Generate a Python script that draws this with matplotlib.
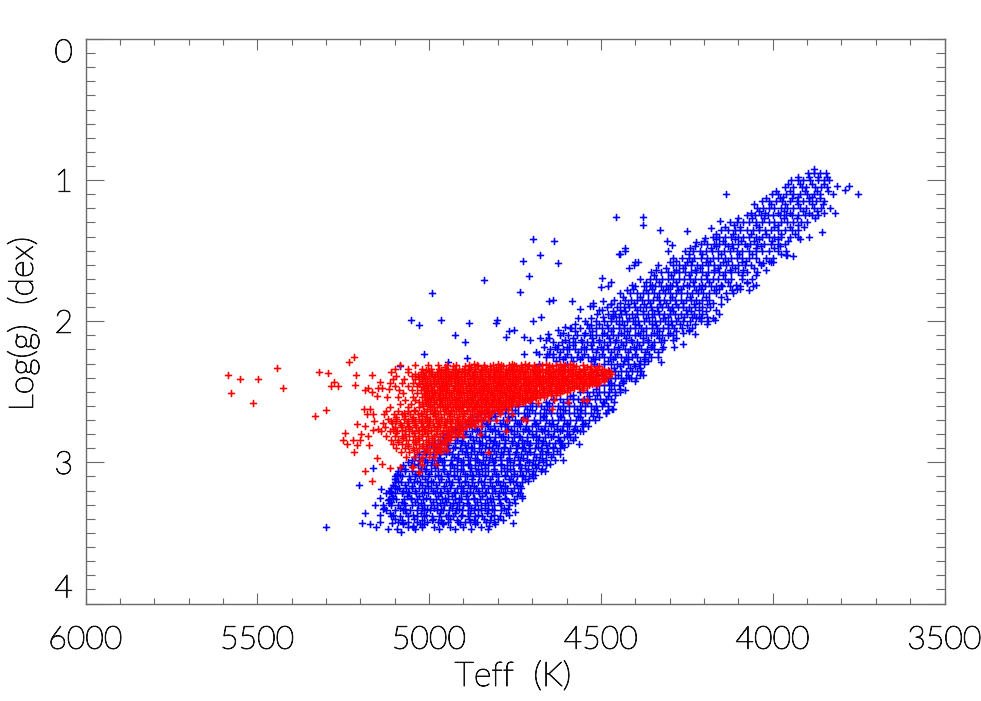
import numpy as np
import matplotlib
matplotlib.use('Agg')
import matplotlib.pyplot as plt
import matplotlib.patheffects as pe
from matplotlib.ticker import MultipleLocator

OUTPUT = 'out.png'

# isolated stars
blue_out_teff = [4698, 4637, 4678, 4726, 4626, 4710, 4839, 4735, 4991, 4650, 4640, 4583, 5052, 5029, 4965, 4883,
                 4803, 4804, 4697, 4675, 4926, 4896, 4775, 4767, 4753, 4723, 4706, 4676, 4659, 4655, 5014, 5085,
                 4944, 4890, 4723, 4679, 4658, 4498, 4500, 4480, 4470, 4446, 4456, 4377, 4377, 4430, 4328, 4250,
                 4403, 4392, 4429, 4445, 4307, 4293, 4223, 4197, 4401, 4417, 3881, 4137, 3751, 3779, 3790, 3813,
                 3824, 3820, 3857, 3940, 3960, 4153, 4180, 5301, 5205, 5162, 5195, 5187, 5171, 5155, 5157, 5142,
                 5139, 5114, 5094, 5099, 5092, 5142, 5143, 5133, 5119, 5120, 5109, 5082, 5077, 5046, 5027, 4992,
                 4960, 4755, 4750, 4826, 4881, 4963, 5047, 4729, 4697, 4662, 4611, 4564, 4551, 4468, 4430, 4486,
                 4326, 4377, 4417, 4435, 4334, 4287, 4262, 4289, 4226, 4243, 4192, 4167, 4155, 4210, 4236, 4190,
                 4132, 4116, 4095, 4056, 4076, 3959, 3998, 4027, 4493, 4471, 4522, 4498, 4466, 4624, 4604, 4587,
                 4634, 4639, 4561, 4566, 4541, 4532, 4522]
blue_out_logg = [1.42, 1.43, 1.53, 1.57, 1.59, 1.68, 1.71, 1.79, 1.80, 1.86, 1.85, 1.86, 1.99, 2.03, 1.99, 2.01,
                 1.99, 2.01, 2.00, 1.97, 2.10, 2.15, 2.11, 2.07, 2.06, 2.11, 2.13, 2.12, 2.13, 2.09, 2.23, 2.32,
                 2.29, 2.26, 2.23, 2.23, 2.23, 1.69, 1.76, 1.75, 1.72, 1.52, 1.26, 1.26, 1.32, 1.50, 1.35, 1.36,
                 1.60, 1.58, 1.48, 1.52, 1.43, 1.46, 1.44, 1.41, 1.58, 1.62, 0.92, 1.10, 1.10, 1.04, 1.07, 1.04,
                 1.10, 1.23, 1.37, 1.54, 1.53, 1.29, 1.34, 3.46, 3.16, 3.04, 3.43, 3.36, 3.44, 3.46, 3.30, 3.25,
                 3.19, 3.20, 3.19, 3.12, 3.09, 3.37, 3.42, 3.30, 3.27, 3.47, 3.43, 3.49, 3.43, 3.46, 3.44, 3.41,
                 3.43, 3.43, 3.35, 3.45, 3.42, 3.43, 3.45, 3.24, 3.11, 3.06, 2.98, 2.87, 2.78, 2.62, 2.49, 2.65,
                 2.29, 2.38, 2.40, 2.42, 2.25, 2.18, 2.16, 2.13, 2.09, 2.06, 2.02, 1.99, 1.95, 1.98, 1.97, 1.97,
                 1.84, 1.80, 1.77, 1.75, 1.73, 1.53, 1.58, 1.59, 1.86, 1.88, 1.89, 1.92, 1.96, 2.06, 2.04, 2.05,
                 2.18, 2.23, 1.91, 1.98, 2.02, 1.89, 1.87]

red_out_teff = [5584, 5551, 5498, 5444, 5577, 5425, 5512, 5320, 5295, 5332, 5299, 5232, 5219, 5212, 5165, 5276,
                5286, 5265, 5217, 5187, 5177, 5165, 5151, 5143, 5148, 5138, 5122, 5117, 5190, 5171, 5181, 5163,
                5160, 5186, 5211, 5245, 5250, 5238, 5222, 5211, 5201, 5199, 5178, 5219, 5174, 5162, 5148, 5187,
                5167, 5153, 5138, 5114, 5085, 5051, 5027, 5030, 4980, 4828, 4776, 4852, 4848, 4830, 4806, 4773,
                4728, 4718, 4641, 4636, 4684, 4595, 4553, 4540, 4552, 4794, 4760, 4770, 4901, 4915, 4949, 5020,
                5029, 5048, 4978, 4954, 4988]
red_out_logg = [2.38, 2.41, 2.41, 2.33, 2.51, 2.47, 2.58, 2.36, 2.37, 2.67, 2.63, 2.29, 2.25, 2.38, 2.38, 2.43,
                2.46, 2.46, 2.45, 2.49, 2.47, 2.50, 2.53, 2.43, 2.47, 2.47, 2.54, 2.48, 2.62, 2.62, 2.66, 2.66,
                2.71, 2.74, 2.73, 2.79, 2.84, 2.87, 2.84, 2.88, 2.84, 2.80, 2.81, 2.93, 2.88, 2.77, 2.76, 3.06,
                3.13, 2.97, 3.01, 3.04, 3.03, 3.03, 2.99, 3.07, 3.01, 2.93, 2.78, 2.80, 2.74, 2.70, 2.70, 2.70,
                2.69, 2.70, 2.62, 2.56, 2.58, 2.57, 2.56, 2.56, 2.49, 2.66, 2.66, 2.63, 2.81, 2.79, 2.91, 3.02,
                3.07, 3.03, 2.92, 2.85, 2.88]

# crowded parts of the clouds, read strip by strip in log(g)
blue_logg = [0.95, 1.00, 1.05, 1.10, 1.15, 1.20, 1.25, 1.30, 1.35, 1.40, 1.45, 1.50, 1.55, 1.60, 1.65, 1.70,
             1.75, 1.80, 1.85, 1.90, 1.95, 2.00, 2.05, 2.10, 2.15, 2.20, 2.25, 2.30, 2.35, 2.40, 2.45, 2.50,
             2.55, 2.60, 2.65, 2.70, 2.74, 2.78, 2.82, 2.86, 2.90, 2.94, 2.98, 3.02, 3.06, 3.10, 3.14, 3.18,
             3.22, 3.26, 3.30, 3.34, 3.38, 3.42, 3.46]
blue_teff = [
    [3898, 3880, 3862, 3845],
    [3948, 3925, 3912, 3890, 3868, 3850, 3835],
    [3965, 3940, 3915, 3902, 3878, 3860, 3842],
    [4003, 3985, 3962, 3940, 3921, 3900, 3880, 3862],
    [4030, 4010, 3990, 3972, 3950, 3930, 3912, 3895, 3875, 3850],
    [4046, 4028, 4012, 3995, 3975, 3958, 3940, 3920, 3902, 3880, 3860, 3832],
    [4075, 4052, 4035, 4015, 3998, 3980, 3962, 3945, 3925, 3905, 3885, 3868],
    [4124, 4105, 4085, 4068, 4048, 4030, 4012, 3995, 3975, 3958, 3940, 3918, 3900],
    [4150, 4130, 4110, 4095, 4075, 4058, 4040, 4022, 4005, 3985, 3965, 3945, 3925],
    [4174, 4155, 4138, 4120, 4102, 4085, 4068, 4050, 4032, 4012, 3995, 3975, 3950, 3925, 3895],
    [4210, 4190, 4172, 4155, 4138, 4118, 4100, 4082, 4065, 4045, 4025, 4005, 3985, 3965],
    [4305, 4255, 4232, 4212, 4195, 4178, 4160, 4142, 4125, 4105, 4088, 4070, 4050, 4030, 4010, 3985, 3962],
    [4290, 4265, 4245, 4228, 4210, 4192, 4175, 4158, 4140, 4122, 4105, 4088, 4070, 4048, 4020, 3998],
    [4335, 4290, 4272, 4255, 4238, 4220, 4205, 4188, 4170, 4152, 4135, 4118, 4100, 4082, 4062, 4035],
    [4355, 4325, 4305, 4288, 4272, 4255, 4238, 4222, 4205, 4188, 4170, 4155, 4138, 4120, 4100, 4075, 4045],
    [4385, 4358, 4340, 4322, 4306, 4290, 4274, 4258, 4242, 4225, 4208, 4192, 4175, 4158, 4140, 4120, 4090, 4060],
    [4400, 4375, 4358, 4342, 4326, 4310, 4294, 4278, 4262, 4245, 4230, 4214, 4198, 4180, 4165, 4148, 4125, 4095],
    [4445, 4415, 4395, 4378, 4362, 4345, 4330, 4314, 4298, 4282, 4266, 4250, 4235, 4218, 4202, 4186, 4165, 4135],
    [4462, 4430, 4412, 4396, 4380, 4364, 4348, 4332, 4316, 4300, 4285, 4268, 4252, 4238, 4222, 4205, 4185],
    [4482, 4452, 4434, 4418, 4402, 4386, 4370, 4354, 4338, 4322, 4306, 4292, 4276, 4260, 4244, 4225, 4205, 4182],
    [4510, 4478, 4458, 4442, 4426, 4410, 4394, 4378, 4362, 4346, 4330, 4315, 4300, 4284, 4268, 4250, 4230, 4205],
    [4546, 4515, 4490, 4472, 4456, 4440, 4424, 4408, 4392, 4376, 4360, 4344, 4328, 4312, 4296, 4280, 4262, 4240, 4210, 4188],
    [4590, 4560, 4535, 4515, 4498, 4480, 4465, 4448, 4432, 4416, 4400, 4384, 4368, 4352, 4336, 4320, 4305, 4288, 4265, 4235],
    [4620, 4595, 4570, 4550, 4532, 4515, 4498, 4482, 4466, 4450, 4434, 4418, 4402, 4386, 4370, 4354, 4338, 4322, 4305, 4290],
    [4640, 4612, 4592, 4574, 4556, 4540, 4522, 4506, 4490, 4474, 4458, 4442, 4426, 4410, 4394, 4378, 4362, 4345, 4325],
    [4648, 4628, 4610, 4592, 4576, 4558, 4542, 4526, 4510, 4494, 4478, 4462, 4446, 4430, 4414, 4398, 4382, 4365, 4345, 4322],
    [4660, 4640, 4622, 4604, 4588, 4570, 4554, 4538, 4522, 4505, 4490, 4474, 4458, 4442, 4426, 4410, 4394, 4376, 4355],
    [4680, 4600, 4520, 4490, 4470, 4452, 4436, 4420, 4404, 4388, 4376],
    [4475, 4458, 4442, 4426, 4410, 4396, 4382],
    [4490, 4474, 4458, 4442, 4428, 4412, 4398],
    [4505, 4490, 4476, 4462, 4446],
    [4560, 4540, 4522, 4505, 4490, 4475, 4460, 4445],
    [4640, 4620, 4600, 4582, 4566, 4550, 4534, 4518, 4502, 4486, 4470],
    [4760, 4740, 4722, 4706, 4690, 4674, 4658, 4642, 4626, 4610, 4594, 4578, 4562, 4546, 4530, 4514, 4498, 4480],
    [4850, 4830, 4812, 4795, 4778, 4760, 4742, 4725, 4708, 4692, 4676, 4660, 4644, 4628, 4610, 4594, 4578, 4562, 4546, 4530, 4512, 4486],
    [4881, 4860, 4842, 4822, 4805, 4786, 4768, 4750, 4732, 4714, 4696, 4678, 4660, 4642, 4624, 4606, 4590, 4572, 4554, 4536, 4518],
    [4905, 4885, 4865, 4846, 4828, 4810, 4790, 4772, 4754, 4736, 4718, 4700, 4682, 4664, 4646, 4628, 4610, 4592, 4574, 4556, 4538],
    [4935, 4912, 4893, 4874, 4855, 4836, 4818, 4800, 4780, 4762, 4744, 4726, 4708, 4690, 4672, 4654, 4636, 4618, 4600, 4582, 4562],
    [4960, 4940, 4920, 4900, 4882, 4864, 4845, 4826, 4808, 4790, 4770, 4752, 4734, 4716, 4698, 4680, 4662, 4644, 4626, 4608, 4590, 4574],
    [4985, 4965, 4945, 4926, 4908, 4888, 4870, 4852, 4834, 4815, 4796, 4778, 4760, 4742, 4724, 4706, 4688, 4670, 4652, 4634, 4616, 4596],
    [5005, 4985, 4966, 4948, 4930, 4910, 4892, 4874, 4855, 4836, 4818, 4800, 4782, 4764, 4745, 4728, 4710, 4692, 4674, 4656, 4638, 4618],
    [5030, 5010, 4990, 4972, 4952, 4934, 4916, 4896, 4878, 4860, 4842, 4822, 4804, 4786, 4768, 4750, 4732, 4714, 4696, 4678, 4660, 4640, 4620],
    [5050, 5030, 5012, 4992, 4974, 4956, 4936, 4918, 4900, 4882, 4862, 4844, 4826, 4808, 4790, 4772, 4754, 4736, 4716, 4698, 4680, 4660, 4635],
    [5075, 5052, 5032, 5014, 4995, 4976, 4958, 4940, 4920, 4902, 4884, 4866, 4848, 4830, 4810, 4792, 4774, 4756, 4738, 4720, 4700, 4682, 4660],
    [5090, 5070, 5050, 5030, 5012, 4994, 4974, 4956, 4938, 4920, 4900, 4882, 4864, 4846, 4828, 4810, 4790, 4772, 4754, 4736, 4718, 4698, 4675],
    [5098, 5078, 5058, 5040, 5020, 5002, 4984, 4964, 4946, 4928, 4910, 4890, 4872, 4854, 4836, 4818, 4800, 4780, 4762, 4744, 4726, 4708],
    [5100, 5082, 5062, 5044, 5026, 5006, 4988, 4970, 4950, 4932, 4914, 4896, 4876, 4858, 4840, 4822, 4804, 4785, 4766, 4748, 4730],
    [5110, 5088, 5068, 5050, 5030, 5012, 4994, 4976, 4956, 4938, 4920, 4902, 4882, 4864, 4846, 4828, 4810, 4790, 4772, 4754, 4732],
    [5125, 5100, 5078, 5058, 5038, 5020, 5002, 4982, 4964, 4946, 4928, 4908, 4890, 4872, 4854, 4836, 4816, 4798, 4780, 4760, 4735],
    [5118, 5096, 5074, 5054, 5036, 5018, 4998, 4980, 4962, 4944, 4924, 4906, 4888, 4870, 4852, 4832, 4814, 4796, 4775, 4752],
    [5110, 5090, 5070, 5050, 5032, 5014, 4994, 4976, 4958, 4940, 4920, 4902, 4884, 4866, 4848, 4828, 4810, 4790, 4768],
    [5125, 5098, 5076, 5056, 5036, 5016, 4998, 4978, 4960, 4942, 4922, 4904, 4886, 4868, 4848, 4830, 4810, 4790],
    [5110, 5085, 5060, 5035, 5015, 4992, 4972, 4950, 4930, 4906, 4886, 4865, 4845, 4820, 4795],
    [5090, 5060, 5035, 5005, 4975, 4945, 4915, 4895, 4860, 4835, 4810],
    [5062, 5020, 4985, 4940, 4900, 4850],
]

# stars lying between those strips
blue_logg2 = [0.98, 1.03, 1.08, 1.13, 1.17, 1.23, 1.27, 1.33, 1.38, 1.43, 1.47, 1.52, 1.57, 1.62, 1.67, 1.72,
              1.77, 1.83, 1.87, 1.93, 1.97, 2.03, 2.07, 2.13, 2.17, 2.23, 2.27, 2.33, 2.42, 2.48, 2.53, 2.58,
              2.63, 2.67, 2.72, 2.76, 2.80, 2.84, 2.88, 2.92, 2.96, 3.00, 3.04, 3.08, 3.12, 3.16, 3.20, 3.24,
              3.28, 3.32, 3.36, 3.40, 3.44,
              1.12, 1.22, 1.32, 1.42, 1.48, 1.58, 1.64, 1.74, 1.78, 1.88, 1.92, 1.98, 2.02, 2.08, 2.12, 2.18,
              2.22, 2.28, 2.32, 2.38, 2.44, 2.52, 2.57, 2.62, 2.68, 2.73, 2.77, 2.81, 2.85, 2.89, 2.93, 2.97,
              3.01, 3.05, 3.09, 3.13, 3.17, 3.21, 3.25, 3.29, 3.33, 3.37, 3.41, 3.47]
blue_teff2 = [
    [3925, 3895, 3868, 3843],
    [3955, 3920, 3885, 3852],
    [3990, 3950, 3905, 3870, 3838],
    [4020, 3980, 3945, 3895, 3862],
    [4055, 4005, 3965, 3925, 3885, 3855],
    [4062, 4021, 3985, 3950, 3895, 3850],
    [4100, 4060, 4025, 3968, 3930, 3878],
    [4140, 4095, 4040, 3995, 3950, 3908],
    [4165, 4115, 4062, 4020, 3975, 3935],
    [4200, 4145, 4092, 4055, 4003, 3955],
    [4225, 4165, 4130, 4075, 4035, 3978],
    [4245, 4205, 4150, 4098, 4060, 3975],
    [4280, 4235, 4182, 4130, 4078, 4012],
    [4310, 4262, 4212, 4160, 4110, 4055],
    [4345, 4297, 4245, 4195, 4145, 4090, 4050],
    [4370, 4332, 4282, 4233, 4185, 4130, 4075],
    [4408, 4352, 4305, 4268, 4210, 4155, 4105],
    [4435, 4385, 4338, 4292, 4242, 4195, 4150],
    [4445, 4405, 4356, 4310, 4260, 4215, 4175],
    [4465, 4430, 4378, 4335, 4290, 4238, 4195],
    [4495, 4448, 4402, 4352, 4305, 4258, 4215],
    [4530, 4482, 4434, 4388, 4340, 4292, 4250],
    [4575, 4525, 4472, 4425, 4378, 4330, 4280, 4245],
    [4605, 4558, 4505, 4456, 4412, 4362, 4315],
    [4625, 4582, 4530, 4482, 4436, 4390, 4350],
    [4650, 4598, 4548, 4498, 4452, 4402, 4360],
    [4610, 4560, 4516, 4466, 4420, 4372],
    [4462, 4415, 4385],
    [4480, 4435, 4400],
    [4515, 4470, 4445],
    [4590, 4535, 4478],
    [4700, 4650, 4595, 4540, 4490],
    [4800, 4750, 4700, 4652, 4605, 4558, 4510, 4478],
    [4860, 4808, 4760, 4715, 4665, 4620, 4568, 4522],
    [4895, 4835, 4795, 4745, 4690, 4650, 4600, 4546],
    [4925, 4865, 4822, 4770, 4722, 4675, 4628, 4578],
    [4950, 4895, 4848, 4798, 4752, 4700, 4655, 4592],
    [4975, 4918, 4872, 4822, 4780, 4730, 4682, 4622, 4582],
    [4995, 4945, 4895, 4845, 4805, 4748, 4708, 4660, 4612],
    [5015, 4958, 4905, 4868, 4812, 4770, 4722, 4672, 4628],
    [5040, 4985, 4928, 4888, 4835, 4795, 4742, 4690, 4645],
    [5060, 5005, 4962, 4908, 4855, 4815, 4765, 4710, 4668],
    [5082, 5025, 4982, 4928, 4878, 4838, 4782, 4732, 4690],
    [5093, 5040, 5000, 4948, 4895, 4856, 4805, 4752, 4700],
    [5098, 5055, 5012, 4965, 4915, 4875, 4822, 4768, 4720],
    [5105, 5070, 5022, 4980, 4935, 4888, 4840, 4795, 4745],
    [5118, 5075, 5040, 4990, 4948, 4900, 4858, 4808, 4762],
    [5108, 5065, 5028, 4975, 4932, 4892, 4845, 4800, 4745],
    [5112, 5080, 5042, 4990, 4950, 4912, 4860, 4820, 4768],
    [5130, 5085, 5020, 4985, 4932, 4878, 4838, 4782],
    [5115, 5068, 5025, 4968, 4925, 4880, 4832, 4775],
    [5098, 5045, 4988, 4938, 4885, 4840, 4800],
    [5075, 5015, 4960, 4910, 4865, 4808],
    [3970, 3925, 3885],
    [4040, 3968, 3912, 3870],
    [4112, 4050, 3985, 3925],
    [4165, 4110, 4040, 3985, 3920],
    [4240, 4180, 4115, 4050, 3995],
    [4300, 4250, 4195, 4145, 4090, 4040, 4005],
    [4340, 4280, 4225, 4170, 4125, 4085, 4020],
    [4410, 4350, 4300, 4250, 4205, 4150, 4108, 4050],
    [4425, 4370, 4320, 4275, 4222, 4172, 4118, 4070],
    [4470, 4420, 4375, 4328, 4282, 4230, 4190, 4150],
    [4505, 4445, 4395, 4350, 4300, 4252, 4215, 4165],
    [4530, 4470, 4418, 4368, 4320, 4275, 4222, 4175],
    [4575, 4505, 4448, 4400, 4352, 4304, 4270, 4225],
    [4610, 4545, 4490, 4442, 4392, 4345, 4298, 4262],
    [4650, 4582, 4525, 4475, 4426, 4378, 4330, 4282],
    [4665, 4600, 4550, 4500, 4450, 4405, 4355, 4318],
    [4690, 4618, 4566, 4515, 4470, 4420, 4372, 4335],
    [4630, 4580, 4530, 4480, 4432, 4385, 4362],
    [4512, 4445, 4400],
    [4498, 4450, 4420, 4385],
    [4520, 4472, 4435],
    [4580, 4510, 4458],
    [4660, 4610, 4556, 4495, 4462],
    [4775, 4715, 4665, 4618, 4570, 4520, 4465],
    [4875, 4820, 4770, 4722, 4668, 4615, 4560, 4505],
    [4880, 4832, 4780, 4738, 4692, 4640, 4598, 4552],
    [4915, 4860, 4808, 4762, 4712, 4665, 4612, 4570],
    [4948, 4880, 4836, 4785, 4738, 4690, 4640, 4600],
    [4960, 4905, 4856, 4810, 4760, 4715, 4668, 4620],
    [4980, 4925, 4878, 4825, 4782, 4730, 4684, 4640, 4606],
    [5010, 4942, 4890, 4850, 4792, 4748, 4705, 4655],
    [5022, 4968, 4915, 4865, 4818, 4768, 4728, 4672],
    [5045, 4985, 4932, 4888, 4838, 4790, 4738, 4692, 4648],
    [5070, 5008, 4960, 4908, 4858, 4812, 4765, 4712, 4672],
    [5085, 5030, 4975, 4928, 4875, 4838, 4780, 4730, 4692],
    [5090, 5035, 4995, 4942, 4895, 4848, 4800, 4755, 4712],
    [5098, 5050, 5002, 4958, 4908, 4868, 4818, 4778, 4735],
    [5112, 5062, 5015, 4968, 4925, 4880, 4835, 4785, 4742],
    [5105, 5052, 5008, 4955, 4912, 4870, 4822, 4778, 4730],
    [5118, 5072, 5025, 4968, 4930, 4890, 4838, 4795, 4750],
    [5135, 5070, 5005, 4965, 4912, 4858, 4818, 4770],
    [5105, 5048, 5008, 4945, 4905, 4858, 4810, 4768],
    [5078, 5022, 4965, 4918, 4870, 4822, 4785],
    [5092, 5040, 4970, 4925, 4878, 4830],
]

red_logg = [2.31, 2.335, 2.36, 2.385, 2.41, 2.435, 2.46, 2.485, 2.51, 2.535, 2.56, 2.585, 2.61, 2.635, 2.66, 2.69,
            2.72, 2.75, 2.78, 2.81, 2.84, 2.87, 2.90, 2.93, 2.96]
red_teff = [
    [5085, 5040, 5002, 4975, 4948, 4922, 4885, 4862, 4841, 4815, 4790, 4768, 4752, 4733, 4710, 4694, 4671, 4650, 4632, 4605, 4580, 4551],
    [5100, 5062, 5022, 4995, 4972, 4950, 4931, 4912, 4898, 4880, 4866, 4850, 4835, 4821, 4804, 4790, 4776, 4760, 4745, 4729, 4716, 4700, 4685, 4670, 4654, 4640, 4624, 4610, 4595, 4580, 4565, 4550, 4532, 4516, 4498],
    [5110, 5060, 5025, 5008, 4992, 4977, 4961, 4946, 4930, 4915, 4899, 4884, 4868, 4853, 4838, 4824, 4809, 4795, 4779, 4765, 4750, 4736, 4722, 4706, 4691, 4677, 4663, 4648, 4633, 4619, 4604, 4589, 4575, 4560, 4546, 4530, 4515, 4500, 4485, 4470],
    [5095, 5050, 5032, 5014, 4999, 4983, 4968, 4952, 4937, 4921, 4906, 4890, 4875, 4860, 4845, 4830, 4815, 4801, 4786, 4772, 4757, 4742, 4728, 4713, 4698, 4684, 4669, 4655, 4640, 4625, 4610, 4596, 4581, 4566, 4552, 4537, 4522, 4507, 4492, 4476],
    [5105, 5072, 5040, 5022, 5006, 4990, 4975, 4959, 4944, 4928, 4913, 4897, 4882, 4867, 4852, 4837, 4822, 4808, 4793, 4779, 4764, 4749, 4735, 4720, 4705, 4691, 4676, 4662, 4647, 4632, 4617, 4603, 4588, 4573, 4559, 4544, 4529, 4514, 4498],
    [5115, 5080, 5048, 5028, 5012, 4997, 4981, 4966, 4950, 4935, 4919, 4904, 4888, 4873, 4858, 4843, 4828, 4814, 4799, 4785, 4770, 4755, 4741, 4726, 4711, 4697, 4682, 4668, 4653, 4638, 4623, 4609, 4594, 4579, 4565, 4550, 4535, 4520, 4508],
    [5100, 5062, 5034, 5018, 5003, 4987, 4972, 4956, 4941, 4925, 4910, 4894, 4879, 4864, 4849, 4834, 4820, 4805, 4791, 4776, 4761, 4747, 4732, 4717, 4703, 4688, 4674, 4659, 4644, 4629, 4615, 4600, 4585, 4571, 4556, 4540],
    [5088, 5050, 5025, 5009, 4993, 4978, 4962, 4947, 4931, 4916, 4900, 4885, 4870, 4855, 4840, 4826, 4811, 4797, 4782, 4767, 4753, 4738, 4723, 4709, 4694, 4680, 4665, 4650, 4635, 4621, 4606, 4590],
    [5075, 5035, 5015, 4999, 4984, 4968, 4953, 4937, 4922, 4906, 4891, 4876, 4861, 4846, 4832, 4817, 4803, 4788, 4773, 4759, 4744, 4729, 4715, 4700, 4686, 4671, 4656, 4641, 4620],
    [5090, 5048, 5022, 5005, 4990, 4974, 4959, 4943, 4928, 4912, 4897, 4882, 4867, 4852, 4838, 4823, 4809, 4794, 4779, 4765, 4750, 4735, 4721, 4706, 4692, 4677, 4665],
    [5070, 5040, 5012, 4996, 4980, 4965, 4949, 4934, 4918, 4903, 4888, 4873, 4858, 4844, 4829, 4815, 4800, 4785, 4771, 4756, 4741, 4727, 4712, 4706],
    [5085, 5052, 5020, 5002, 4986, 4971, 4955, 4940, 4924, 4909, 4894, 4879, 4864, 4850, 4835, 4821, 4806, 4791, 4777, 4762, 4747, 4738],
    [5115, 5060, 5028, 4992, 4977, 4961, 4946, 4930, 4915, 4900, 4885, 4870, 4856, 4841, 4827, 4812, 4797, 4783],
    [5125, 5090, 5062, 5040, 5015, 4998, 4983, 4967, 4952, 4936, 4921, 4906, 4891, 4876, 4862, 4847, 4833, 4818, 4800],
    [5130, 5102, 5078, 5055, 5032, 5010, 4990, 4973, 4958, 4942, 4927, 4912, 4897, 4882, 4868, 4853, 4839, 4825],
    [5120, 5095, 5072, 5050, 5030, 5012, 4996, 4980, 4964, 4948, 4933, 4918, 4903, 4888, 4874, 4860, 4850],
    [5135, 5108, 5085, 5063, 5043, 5024, 5006, 4988, 4970, 4954, 4939, 4924, 4909, 4894, 4880, 4870],
    [5128, 5100, 5078, 5058, 5038, 5020, 5002, 4985, 4967, 4950, 4935, 4920, 4905, 4892],
    [5140, 5115, 5092, 5070, 5050, 5030, 5012, 4994, 4976, 4960, 4944, 4930, 4915],
    [5125, 5100, 5080, 5058, 5040, 5020, 5003, 4985, 4968, 4952, 4937, 4925],
    [5112, 5090, 5068, 5048, 5028, 5010, 4992, 4975, 4958, 4940],
    [5105, 5080, 5060, 5038, 5018, 5000, 4982, 4965, 4950],
    [5095, 5070, 5048, 5028, 5008, 4990, 4972, 4958],
    [5082, 5058, 5036, 5015, 4998, 4980, 4966],
    [5068, 5045, 5022, 5000, 4985],
]

red_logg2 = [2.32, 2.347, 2.372, 2.397, 2.422, 2.447, 2.472, 2.497, 2.522, 2.547, 2.572, 2.597, 2.625, 2.65, 2.675,
             2.705, 2.735, 2.765, 2.795, 2.825, 2.855, 2.885, 2.915,
             2.30, 2.325, 2.35, 2.375, 2.40, 2.425, 2.45, 2.475, 2.50, 2.525, 2.55, 2.575, 2.60, 2.63, 2.67,
             2.71, 2.74, 2.77, 2.80]
red_teff2 = [
    [4930, 4895, 4858, 4822, 4785, 4748, 4712, 4680, 4642, 4608, 4572, 4530, 4505],
    [5010, 4965, 4925, 4888, 4845, 4812, 4770, 4738, 4695, 4660, 4622, 4590, 4548, 4512, 4480],
    [5040, 4995, 4955, 4918, 4872, 4838, 4798, 4758, 4722, 4685, 4645, 4612, 4570, 4535, 4492],
    [5030, 4985, 4942, 4908, 4865, 4825, 4792, 4748, 4712, 4670, 4635, 4598, 4558, 4518, 4484],
    [5020, 4975, 4935, 4895, 4855, 4815, 4778, 4740, 4700, 4660, 4625, 4585, 4545, 4505],
    [5028, 4985, 4948, 4905, 4868, 4828, 4788, 4750, 4708, 4675, 4632, 4595, 4552, 4525],
    [5015, 4968, 4928, 4892, 4850, 4812, 4772, 4735, 4695, 4650, 4618, 4578, 4552],
    [5005, 4962, 4920, 4880, 4842, 4802, 4765, 4722, 4688, 4645, 4612],
    [5012, 4972, 4935, 4890, 4852, 4815, 4775, 4738, 4698, 4658, 4632],
    [4995, 4955, 4912, 4875, 4832, 4795, 4752, 4715, 4690],
    [5030, 4985, 4940, 4898, 4860, 4818, 4778, 4738, 4722],
    [5018, 4968, 4925, 4885, 4848, 4805, 4768],
    [5005, 4955, 4912, 4870, 4832, 4798],
    [5072, 5025, 4985, 4942, 4898, 4858, 4820],
    [5095, 5048, 5005, 4965, 4920, 4880, 4838],
    [5110, 5062, 5022, 4975, 4938, 4895, 4858],
    [5082, 5040, 5000, 4958, 4912, 4878],
    [5105, 5058, 5015, 4978, 4932, 4902],
    [5095, 5045, 5005, 4962, 4920],
    [5075, 5032, 4992, 4945],
    [5090, 5040, 5002, 4960],
    [5062, 5020, 4978],
    [5045, 5005, 4970],
    [4870, 4800, 4760, 4722, 4660, 4618, 4590],
    [4955, 4878, 4840, 4800, 4762, 4730, 4692, 4650, 4615, 4582, 4540],
    [5000, 4945, 4905, 4866, 4830, 4795, 4755, 4720, 4680, 4640, 4606, 4565, 4525, 4490],
    [5018, 4975, 4935, 4895, 4852, 4812, 4775, 4735, 4698, 4655, 4625, 4585, 4548, 4510, 4470],
    [5012, 4965, 4925, 4882, 4845, 4808, 4768, 4728, 4690, 4650, 4612, 4572, 4532, 4495],
    [4998, 4955, 4915, 4870, 4838, 4798, 4760, 4718, 4680, 4642, 4605, 4562, 4525, 4492],
    [5008, 4962, 4925, 4885, 4842, 4802, 4765, 4725, 4688, 4648, 4610, 4572, 4536, 4510],
    [4995, 4950, 4910, 4870, 4830, 4792, 4752, 4712, 4668, 4634, 4595, 4565],
    [4985, 4942, 4900, 4862, 4820, 4782, 4745, 4705, 4665, 4628, 4598],
    [4992, 4950, 4912, 4870, 4832, 4795, 4755, 4718, 4678, 4645],
    [5005, 4968, 4925, 4890, 4848, 4812, 4768, 4730, 4702],
    [5010, 4962, 4918, 4878, 4838, 4798, 4758, 4728],
    [4998, 4948, 4905, 4865, 4825, 4788, 4762],
    [5045, 4985, 4935, 4890, 4850, 4812, 4788],
    [5070, 5022, 4982, 4940, 4900, 4858, 4825],
    [5095, 5040, 5000, 4955, 4915, 4875, 4848],
    [5060, 5018, 4978, 4935, 4892, 4866],
    [5078, 5032, 4995, 4952, 4910],
    [5070, 5022, 4980, 4942, 4912],
]


def flatten_rows(logg_rows, teff_rows):
    teff = np.concatenate([np.array(row, dtype=float) for row in teff_rows])
    logg = np.concatenate([np.full(len(row), g) for g, row in zip(logg_rows, teff_rows)])
    return teff, logg


def main():
    plt.rcParams['font.family'] = ['Lato', 'DejaVu Sans']
    plt.rcParams['font.weight'] = 'light'

    fig = plt.figure(figsize=(9.81, 7.01), dpi=100)
    ax = fig.add_axes([85.5 / 981, 1 - 603.5 / 701, 859 / 981, 564.5 / 701])

    blue_x, blue_y = flatten_rows(blue_logg, blue_teff)
    blue_x2, blue_y2 = flatten_rows(blue_logg2, blue_teff2)
    red_x, red_y = flatten_rows(red_logg, red_teff)
    red_x2, red_y2 = flatten_rows(red_logg2, red_teff2)

    marker_style = dict(marker='+', s=28, linewidths=1.15, snap=False)
    ax.scatter(np.r_[blue_x, blue_x2, blue_out_teff], np.r_[blue_y, blue_y2, blue_out_logg], color='#0000ff', **marker_style)
    ax.scatter(np.r_[red_x, red_x2, red_out_teff], np.r_[red_y, red_y2, red_out_logg], color='#ff0000', **marker_style)

    ax.set_xlim(6000, 3500)
    ax.set_ylim(4, 0)

    ax.xaxis.set_major_locator(MultipleLocator(500))
    ax.xaxis.set_minor_locator(MultipleLocator(100))
    ax.yaxis.set_major_locator(MultipleLocator(1))
    ax.yaxis.set_minor_locator(MultipleLocator(0.1))

    edge = '#6a6a6a'
    for spine in ax.spines.values():
        spine.set_color(edge)
        spine.set_linewidth(1.0)
    ax.tick_params(axis='x', which='major', direction='in', top=True, length=8, width=0.8, color=edge, pad=16, labelsize=23)
    ax.tick_params(axis='x', which='minor', direction='in', top=True, length=4.3, width=0.8, color=edge)
    ax.tick_params(axis='y', which='major', direction='in', right=True, length=13, width=0.8, color=edge, pad=9, labelsize=23)
    ax.tick_params(axis='y', which='minor', direction='in', right=True, length=6.5, width=0.8, color=edge)

    ax.set_yticks([0, 1, 2, 3, 4])
    ax.set_yticklabels(['0', '1', '2', '3', '4'])
    # end labels sit inside the axis range, like the reference
    labels = ax.get_yticklabels()
    labels[0].set_verticalalignment('top')
    labels[4].set_verticalalignment('bottom')

    xlab = fig.text(513 / 981, 1 - 677 / 701, 'Teff  (K)', ha='center', va='center', fontsize=24.5)
    ylab = fig.text(23 / 981, 1 - 324 / 701, 'Log(g)  (dex)', ha='center', va='center', rotation=90, fontsize=24.5)

    # the only light Lato is a hairline, so thicken it a little
    thick = [pe.withStroke(linewidth=0.7, foreground='#111111')]
    for t in [xlab, ylab] + ax.get_xticklabels() + ax.get_yticklabels():
        t.set_color('#111111')
        t.set_path_effects(thick)

    fig.savefig(OUTPUT, dpi=100)


if __name__ == '__main__':
    main()
